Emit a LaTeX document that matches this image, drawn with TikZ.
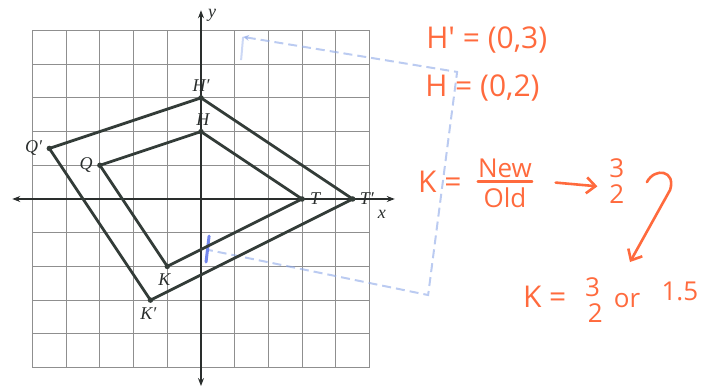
\documentclass[tikz,border=0pt]{standalone}
\usepackage{fontspec}
\setmainfont{Liberation Serif}
\newfontfamily\handfont{Open Sans}
\usetikzlibrary{positioning,arrows.meta,calc}
\definecolor{ink}{HTML}{2A2E2D}
\definecolor{edge}{HTML}{333C38}
\definecolor{gridc}{HTML}{8F8F8F}
\definecolor{pen}{HTML}{FF6A3D}
\definecolor{ghost}{HTML}{8EA8E8}
\tikzset{
  gridln/.style={draw=gridc, line width=0.9pt},
  axis/.style={draw=ink, line width=1.2pt,
               {Stealth[length=8pt,width=6pt]}-{Stealth[length=8pt,width=6pt]}},
  vtx/.style={circle, fill=edge, inner sep=0pt, minimum size=5.5pt},
  poly/.style={draw=edge, line width=2.8pt, line join=round},
  lbl/.style={font=\fontsize{18}{18}\selectfont\itshape, text=ink, inner sep=1pt},
  % ---- handwritten notes ----
  hand/.style={font=\handfont\fontsize{30}{30}\selectfont, text=pen, inner sep=0pt},
  handsm/.style={font=\handfont\fontsize{26}{26}\selectfont, text=pen, inner sep=0pt},
  penln/.style={draw=pen, line width=2.6pt, line cap=round, line join=round},
  penarr/.style={penln, -{Straight Barb[length=9pt,width=16pt]}},
  ghostln/.style={draw=ghost, line width=2pt, dash pattern=on 9pt off 5pt, opacity=0.6},
}

\begin{document}
\begin{tikzpicture}[x=33.7pt, y=33.7pt]
\useasboundingbox (-5.964,-5.579) rectangle (15.015,5.905);
% grid
\foreach \i in {-5,...,5} {
  \draw[gridln] (\i,-5) -- (\i,5);
  \draw[gridln] (-5,\i) -- (5,\i);
}
% axes
\coordinate (xl) at (-5.6,0); \coordinate (xr) at (5.75,0);
\coordinate (yb) at (0,-5.55); \coordinate (yt) at (0,5.6);
\draw[axis] (xl) -- (xr);
\draw[axis] (yb) -- (yt);
\node[lbl] (xlab) at (5.37,-0.45) {x};
\node[lbl] (ylab) at (0.33,5.46) {y};
% ghost sketch (faint blue)
\coordinate (b1) at (1.25,4.81);  \coordinate (b2) at (7.60,3.77);
\coordinate (b3) at (6.74,-2.85); \coordinate (b4) at (0.21,-1.51);
\coordinate (b1t) at (1.19,4.12);
\coordinate (b4a) at (0.24,-1.10); \coordinate (b4b) at (0.15,-1.87);
\draw[ghostln, {Stealth[length=6pt,width=6pt]}-] (b1) -- (b2) -- (b3) -- (b4);
\draw[ghostln, solid, opacity=0.45] (b1) -- (b1t);
\draw[draw=ghost!80!blue, line width=3pt, line cap=round] (b4a) -- (b4b);
% original figure QHTK
\node[vtx] (q) at (-3,1) {};
\node[vtx] (h) at (0,2) {};
\node[vtx] (t) at (3,0) {};
\node[vtx] (k) at (-1,-2) {};
\draw[poly] (q.center) -- (h.center) -- (t.center) -- (k.center) -- cycle;
% image Q'H'T'K'
\node[vtx] (qp) at (-4.5,1.5) {};
\node[vtx] (hp) at (0,3) {};
\node[vtx] (tp) at (4.5,0) {};
\node[vtx] (kp) at (-1.5,-3) {};
\draw[poly] (qp.center) -- (hp.center) -- (tp.center) -- (kp.center) -- cycle;
% vertex labels
\node[lbl, left=3pt of q] {Q};
\node[lbl, above=2pt of h, xshift=2pt] {H};
\node[lbl, right=4pt of t] {T};
\node[lbl, below=3pt of k, xshift=-3pt] {K};
\node[lbl, left=3pt of qp] {Q′};
\node[lbl, above=2pt of hp] {H′};
\node[lbl, right=3pt of tp] {T′};
\node[lbl, below=3pt of kp, xshift=-2pt] {K′};
% notes
\node[hand, anchor=west] (nhp) at (6.68,4.72) {H' = (0,3)};
\node[hand, anchor=west] (nh) at (6.65,3.29) {H = (0,2)};
\node[hand, anchor=west] (kk) at (6.44,0.50) {K =};
\node[handsm] (nw) at (9.02,0.92) {New};
\node[handsm] (old) at (9.02,0.05) {Old};
\draw[penln] ($(nw.south west)+(0,-4pt)$) -- ($(nw.south east)+(0,-4pt)$);
\node[handsm] (n3) at (12.34,0.92) {3};
\node[handsm] (n2) at (12.34,0.15) {2};
\draw[penarr] ($(nw.south east)+(0.7,-5pt)$) -- ($(n2.north west)+(-0.35,-2pt)$);
\coordinate (turn) at (13.92,0.27);
\coordinate (tip) at (12.73,-1.87);
\draw[penarr] (13.23,0.50) .. controls (13.47,0.95) and (14.1,0.85) .. (turn) -- (tip);
\node[hand, anchor=west] (kk2) at (9.55,-2.91) {K =};
\node[handsm] (m3) at (11.62,-2.61) {3};
\node[handsm] (m2) at (11.70,-3.38) {2};
\node[handsm] (orw) at (12.64,-3.0) {or};
\node[handsm] (val) at (14.21,-2.73) {1.5};
\end{tikzpicture}
\end{document}
